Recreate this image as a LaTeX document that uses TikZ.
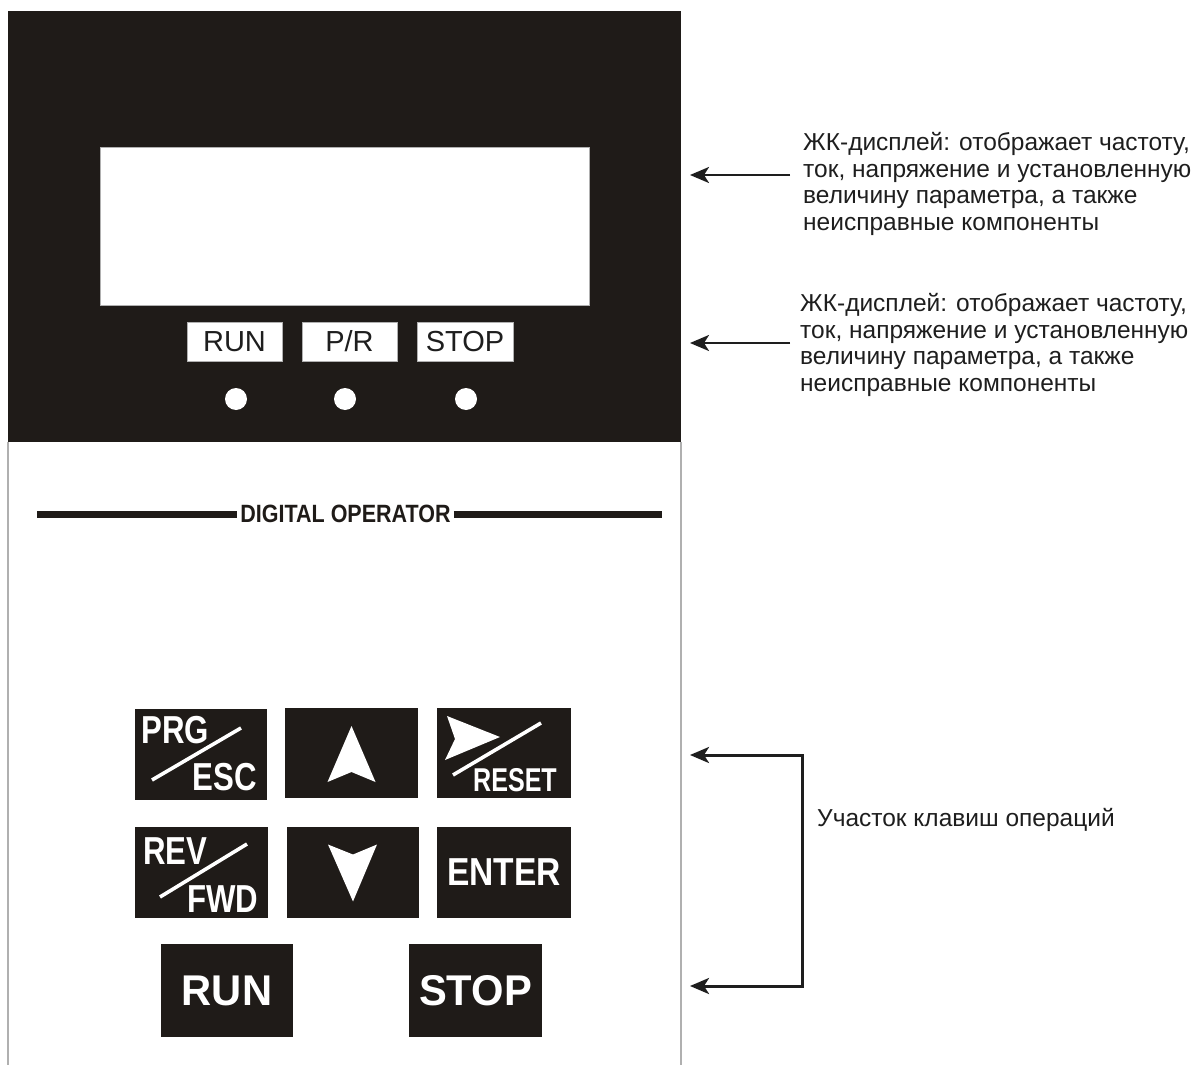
\documentclass[tikz,border=0pt]{standalone}
\usepackage{fontspec}
\setmainfont{Liberation Sans}
\usetikzlibrary{arrows.meta,positioning,calc}
\definecolor{panel}{HTML}{1F1B18}
\definecolor{edge}{HTML}{B0B0B0}
\definecolor{ink}{HTML}{1E1E1E}
\newcommand{\fs}[1]{\fontsize{#1}{#1}\selectfont}

\begin{document}
\begin{tikzpicture}[x=1pt,y=-1pt,
  every node/.style={inner sep=0pt},
  keybox/.style={fill=panel,text=white,minimum width=133pt,minimum height=91pt},
  keytxt/.style={text=white,font=\bfseries\fs{39},xscale=0.8},
  lampbox/.style={fill=white,draw=edge,line width=0.6pt,text=ink,
    minimum width=95pt,minimum height=39pt,font=\fs{29}},
  lamp/.style={circle,fill=white,minimum size=22pt},
  note/.style={text=ink,align=left,font=\fontsize{24.5}{26.5}\selectfont},
  arr/.style={-{Stealth[length=19pt,width=16pt,inset=5pt]},line width=2.6pt,draw=ink},
  slash/.style={white,line width=3.6pt}
]
\useasboundingbox (0,0) rectangle (1195,1065);

% panel
\fill[panel] (8,11) rectangle (681,442);
\draw[edge,line width=1.4pt] (8,442) -- (8,1065);
\draw[edge,line width=1.4pt] (681,442) -- (681,1065);
\node[fill=white,draw=edge,line width=0.8pt,minimum width=489pt,minimum height=158pt]
  (lcd) at (344.5,226) {};

% status lamps
\node[lampbox] (lrun) at (234.5,341.5) {RUN};
\node[lampbox] (lpr) at (349.5,341.5) {P/R};
\node[lampbox,minimum width=96pt] (lstop) at (465,341.5) {STOP};
\node[lamp] (ledrun) at (236,399) {};
\node[lamp] (ledpr) at (345,399) {};
\node[lamp] (ledstop) at (466,399) {};

% label strip
\node[text=panel,font=\bfseries\fs{25},xscale=0.86] (digital) at (345.5,514) {DIGITAL OPERATOR};
\draw[panel,line width=7pt] (37,514) -- ([xshift=-3pt]digital.west);
\draw[panel,line width=7pt] ([xshift=3pt]digital.east) -- (662,514);

% keys
\node[keybox,minimum width=132pt] (prg) at (201,754.5) {};
\node[keybox,minimum height=90pt] (up) at (351.5,753) {};
\node[keybox,minimum width=134pt,minimum height=90pt] (reset) at (504,753) {};
\node[keybox] (rev) at (201.5,872.5) {};
\node[keybox,minimum width=132pt] (down) at (353,872.5) {};
\node[keybox,minimum width=134pt,font=\bfseries\fs{39}] (enter) at (504,872.5) {\scalebox{0.86}[1]{ENTER}};
\node[keybox,minimum width=132pt,minimum height=93pt,font=\bfseries\fs{43}] (run) at (227,990.5) {\scalebox{0.97}[1]{RUN}};
\node[keybox,minimum height=93pt,font=\bfseries\fs{43}] (stop) at (475.5,990.5) {\scalebox{0.97}[1]{STOP}};

\node[keytxt] at ($(prg.center)+(-26,-24.5)$) {PRG};
\node[keytxt] at ($(prg.center)+(24,23)$) {ESC};
\draw[slash] ($(prg.center)+(-49,25.5)$) -- ($(prg.center)+(40,-26.5)$);
\node[keytxt] at ($(rev.center)+(-26,-21.5)$) {REV};
\node[keytxt] at ($(rev.center)+(21.5,27)$) {FWD};
\draw[slash] ($(rev.center)+(-41.5,24.5)$) -- ($(rev.center)+(45.5,-28.5)$);
\node[keytxt,font=\bfseries\fs{33},xscale=0.95] at ($(reset.center)+(11,27)$) {RESET};
\draw[slash] ($(reset.center)+(-51,22)$) -- ($(reset.center)+(37,-30)$);
\fill[white,shift={(reset.center)}] (-57,-37) -- (-4,-16) -- (-59,7) -- (-49,-14) -- cycle;
\fill[white,shift={(up.center)}] (0,-27) -- (24,29) -- (0,19) -- (-24,29) -- cycle;
\fill[white,shift={(down.center)}] (0,29) -- (24,-28) -- (0,-18) -- (-25,-28) -- cycle;

% notes
\node[note,anchor=west] (lcdnote) at (803,184)
  {ЖК-дисплей: отображает частоту,\\ток, напряжение и установленную\\величину параметра, а также\\неисправные компоненты};
\node[note,anchor=west] (lampnote) at (800,345)
  {ЖК-дисплей: отображает частоту,\\ток, напряжение и установленную\\величину параметра, а также\\неисправные компоненты};
\node[note,anchor=west] (keynote) at (817,820) {Участок клавиш операций};

\coordinate (lcdtip) at (690,175);
\coordinate (lamptip) at (690,343);
\coordinate (lcdtail) at ($(lcdnote.west |- lcdtip)+(-13,0)$);
\coordinate (lamptail) at ($(lampnote.west |- lamptip)+(-10,0)$);
\draw[arr] (lcdtail) -- (lcdtip);
\draw[arr] (lamptail) -- (lamptip);

\coordinate (keytop) at (690,755);
\coordinate (keybot) at (690,986);
\coordinate (brtop) at ($(keynote.west |- keytop)+(-15,0)$);
\coordinate (brbot) at ($(keynote.west |- keybot)+(-15,0)$);
\draw[arr,{Stealth[length=19pt,width=16pt,inset=5pt]}-{Stealth[length=19pt,width=16pt,inset=5pt]},line width=3pt]
  (keytop) -- (brtop) -- (brbot) -- (keybot);
\end{tikzpicture}
\end{document}
